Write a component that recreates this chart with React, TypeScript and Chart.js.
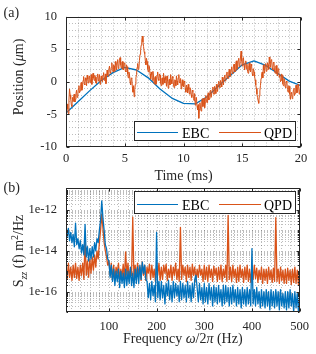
import React, { useEffect, useRef } from "react";
import { Chart, registerables } from "chart.js";

Chart.register(...registerables);

// ---------------- data: panel (a) ----------------
const timeMs = [
  0, 0.05, 0.1, 0.15, 0.2, 0.25, 0.3, 0.35, 0.4, 0.45, 0.5, 0.55, 0.6, 0.65, 0.7, 0.75, 0.8, 0.85, 0.9, 0.95,
  1, 1.05, 1.1, 1.15, 1.2, 1.25, 1.3, 1.35, 1.4, 1.45, 1.5, 1.55, 1.6, 1.65, 1.7, 1.75, 1.8, 1.85, 1.9, 1.95,
  2, 2.05, 2.1, 2.15, 2.2, 2.25, 2.3, 2.35, 2.4, 2.45, 2.5, 2.55, 2.6, 2.65, 2.7, 2.75, 2.8, 2.85, 2.9, 2.95,
  3, 3.05, 3.1, 3.15, 3.2, 3.25, 3.3, 3.35, 3.4, 3.45, 3.5, 3.55, 3.6, 3.65, 3.7, 3.75, 3.8, 3.85, 3.9, 3.95,
  4, 4.05, 4.1, 4.15, 4.2, 4.25, 4.3, 4.35, 4.4, 4.45, 4.5, 4.55, 4.6, 4.65, 4.7, 4.75, 4.8, 4.85, 4.9, 4.95,
  5, 5.05, 5.1, 5.15, 5.2, 5.25, 5.3, 5.35, 5.4, 5.45, 5.5, 5.55, 5.6, 5.65, 5.7, 5.75, 5.8, 5.85, 5.9, 5.95,
  6, 6.05, 6.1, 6.15, 6.2, 6.25, 6.3, 6.35, 6.4, 6.45, 6.5, 6.55, 6.6, 6.65, 6.7, 6.75, 6.8, 6.85, 6.9, 6.95,
  7, 7.05, 7.1, 7.15, 7.2, 7.25, 7.3, 7.35, 7.4, 7.45, 7.5, 7.55, 7.6, 7.65, 7.7, 7.75, 7.8, 7.85, 7.9, 7.95,
  8, 8.05, 8.1, 8.15, 8.2, 8.25, 8.3, 8.35, 8.4, 8.45, 8.5, 8.55, 8.6, 8.65, 8.7, 8.75, 8.8, 8.85, 8.9, 8.95,
  9, 9.05, 9.1, 9.15, 9.2, 9.25, 9.3, 9.35, 9.4, 9.45, 9.5, 9.55, 9.6, 9.65, 9.7, 9.75, 9.8, 9.85, 9.9, 9.95,
  10, 10.05, 10.1, 10.15, 10.2, 10.25, 10.3, 10.35, 10.4, 10.45, 10.5, 10.55, 10.6, 10.65, 10.7, 10.75, 10.8, 10.85, 10.9, 10.95,
  11, 11.05, 11.1, 11.15, 11.2, 11.25, 11.3, 11.35, 11.4, 11.45, 11.5, 11.55, 11.6, 11.65, 11.7, 11.75, 11.8, 11.85, 11.9, 11.95,
  12, 12.05, 12.1, 12.15, 12.2, 12.25, 12.3, 12.35, 12.4, 12.45, 12.5, 12.55, 12.6, 12.65, 12.7, 12.75, 12.8, 12.85, 12.9, 12.95,
  13, 13.05, 13.1, 13.15, 13.2, 13.25, 13.3, 13.35, 13.4, 13.45, 13.5, 13.55, 13.6, 13.65, 13.7, 13.75, 13.8, 13.85, 13.9, 13.95,
  14, 14.05, 14.1, 14.15, 14.2, 14.25, 14.3, 14.35, 14.4, 14.45, 14.5, 14.55, 14.6, 14.65, 14.7, 14.75, 14.8, 14.85, 14.9, 14.95,
  15, 15.05, 15.1, 15.15, 15.2, 15.25, 15.3, 15.35, 15.4, 15.45, 15.5, 15.55, 15.6, 15.65, 15.7, 15.75, 15.8, 15.85, 15.9, 15.95,
  16, 16.05, 16.1, 16.15, 16.2, 16.25, 16.3, 16.35, 16.4, 16.45, 16.5, 16.55, 16.6, 16.65, 16.7, 16.75, 16.8, 16.85, 16.9, 16.95,
  17, 17.05, 17.1, 17.15, 17.2, 17.25, 17.3, 17.35, 17.4, 17.45, 17.5, 17.55, 17.6, 17.65, 17.7, 17.75, 17.8, 17.85, 17.9, 17.95,
  18, 18.05, 18.1, 18.15, 18.2, 18.25, 18.3, 18.35, 18.4, 18.45, 18.5, 18.55, 18.6, 18.65, 18.7, 18.75, 18.8, 18.85, 18.9, 18.95,
  19, 19.05, 19.1, 19.15, 19.2, 19.25, 19.3, 19.35, 19.4, 19.45, 19.5, 19.55, 19.6, 19.65, 19.7, 19.75, 19.8, 19.85, 19.9, 19.95,
  20,
];

const qpdUm = [
  -4.6, -4.0, -3.4, -4.2, -4.9, -2.8, -1.1, -2.0, -2.6, -3.5, -3.8, -2.4, -3.0, -2.2, -1.9, -3.1, -2.7, -1.8, -1.3, -2.4,
  -2.2, -1.1, -0.6, -1.7, -1.4, -0.4, -0.1, -1.3, -1.0, 0.2, 0.8, -0.3, -0.5, 0.6, 0.2, -0.6, 1.0, 0.4, -0.2, 0.7,
  0.9, -0.1, 0.3, 1.1, -0.4, 0.5, 1.3, 0.6, 0.2, 1.0, 0.7, -0.2, -0.3, 0.8, 1.2, 0.1, 0.5, 1.1, -0.4, 0.3,
  0.9, 0.3, 0.0, 1.0, 1.4, 0.2, 0.6, 1.2, -0.3, 0.7, 1.8, 1.0, 0.8, 1.9, 2.4, 1.5, 1.3, 2.2, 2.9, 1.9,
  1.5, 2.6, 2.4, 1.6, 3.1, 2.5, 1.8, 2.9, 3.4, 2.0, 2.3, 3.3, 3.7, 2.6, 2.1, 3.0, 3.1, 1.9, 1.8, 2.9,
  2.8, 1.7, 1.5, 2.6, 2.3, 1.2, 0.6, 1.5, 1.2, 0.0, -0.5, 0.6, 0.5, -0.8, -1.6, -0.6, -2.3, -1.2, -0.4, 0.6,
  1.1, 2.2, 2.8, 1.9, 2.0, 3.3, 4.2, 4.9, 5.6, 6.4, 7.0, 6.1, 5.4, 4.6, 4.3, 3.2, 2.6, 3.6, 3.1, 2.0,
  1.5, 2.5, 2.3, 1.2, 0.4, 1.5, 1.1, 0.2, 1.6, 0.7, -0.3, 0.6, 0.8, -0.4, -0.2, 1.0, 1.5, 0.4, 0.2, 1.2,
  1.0, -0.2, -0.6, 0.5, 0.6, -0.4, 1.3, 0.6, -0.2, 0.8, 0.3, -0.7, 0.9, 0.1, -1.0, 0.2, 0.4, -0.5, 1.1, 0.3,
  -0.3, 0.8, 0.6, -0.5, -0.9, 0.3, 0.2, -0.6, 0.9, 0.1, -0.5, 0.6, 1.1, 0.0, -0.2, 0.5, -1.1, -0.3, 0.3, -0.6,
  -0.8, 0.1, -0.1, -1.0, -1.6, -0.5, -0.9, -1.7, -0.4, -1.2, -1.9, -0.9, -1.1, -2.0, -2.4, -1.3, -1.5, -2.6, -2.9, -1.8,
  -3.6, -2.9, -2.4, -3.7, -4.3, -3.5, -5.6, -4.2, -3.2, -4.1, -4.5, -3.1, -2.6, -3.8, -3.5, -2.5, -4.0, -3.2, -2.1, -3.0,
  -3.2, -2.2, -1.7, -2.8, -2.6, -1.5, -1.3, -2.4, -2.4, -1.2, -0.8, -1.9, -1.9, -0.7, -1.2, -1.8, -0.4, -0.9, -1.5, -0.3,
  0.1, -0.7, -0.9, 0.2, -0.3, -0.8, 0.7, 0.0, -0.5, 0.6, 1.0, 0.1, 0.2, 1.2, 1.5, 0.5, 0.5, 1.5, 1.9, 0.9,
  0.8, 1.9, 2.3, 1.3, 1.2, 2.4, 2.7, 1.5, 1.6, 2.9, 3.2, 1.9, 2.0, 3.3, 3.6, 2.3, 2.5, 3.8, 4.7, 3.2,
  2.4, 3.4, 3.7, 2.5, 1.8, 2.9, 3.2, 2.0, 2.7, 1.6, 1.3, 2.5, 2.9, 1.8, 1.5, 2.7, 2.4, 1.2, 0.9, 2.0,
  1.5, 0.8, 0.3, -0.5, -1.0, -1.9, -2.4, -2.9, -3.3, -2.2, -1.4, -0.6, 0.5, 1.2, 1.5, 0.6, 2.6, 1.8, 1.3, 2.4,
  2.8, 1.6, 1.7, 2.9, 2.6, 1.9, 3.8, 2.8, 2.2, 3.3, 3.4, 2.1, 1.8, 3.0, 2.9, 1.6, 1.3, 2.4, 2.5, 1.2,
  0.9, 2.0, 1.9, 0.7, 1.1, 0.0, 0.2, 1.2, 1.0, -0.3, -0.6, 0.5, 0.4, -0.8, -0.9, 0.1, -0.1, -1.2, -1.6, -0.6,
  -0.7, -1.9, -2.7, -1.8, -1.6, -2.6, -2.4, -1.3, -1.0, -2.1, -1.8, -0.6, -0.5, -1.7, -1.6, -0.4, -0.7, -1.9, -1.5, -0.8,
  -1.0,
];

const ebcTimeMs = [0, 1, 2, 3, 4, 5, 6, 7, 8, 9, 10, 11, 12, 13, 14, 15, 16, 17, 18, 19, 20];
const ebcUm = [-4.8, -3.1, -1.4, 0.2, 1.4, 2.2, 1.8, 0.6, -1.1, -2.5, -3.3, -3.4, -2.3, -0.6, 1.0, 2.6, 3.2, 2.5, 1.3, 0.1, -0.6];

const xTicksA = [0, 5, 10, 15, 20];
const yTicksA = [-10, -5, 0, 5, 10];

// ---------------- data: panel (b) ----------------
const freqHz = [
  10, 12.5, 15, 17.5, 20, 22.5, 25, 27.5,
  30, 32.5, 35, 37.5, 40, 42.5, 45, 47.5,
  50, 52.5, 55, 57.5, 60, 62.5, 65, 67.5,
  70, 72.5, 75, 77.5, 80, 82.5, 85, 87.5,
  90, 92.5, 95, 97.5, 100, 102.5, 105, 107.5,
  110, 112.5, 115, 117.5, 120, 122.5, 125, 127.5,
  130, 132.5, 135, 137.5, 140, 142.5, 145, 147.5,
  150, 152.5, 155, 157.5, 160, 162.5, 165, 167.5,
  170, 172.5, 175, 177.5, 180, 182.5, 185, 187.5,
  190, 192.5, 195, 197.5, 200, 202.5, 205, 207.5,
  210, 212.5, 215, 217.5, 220, 222.5, 225, 227.5,
  230, 232.5, 235, 237.5, 240, 242.5, 245, 247.5,
  250, 252.5, 255, 257.5, 260, 262.5, 265, 267.5,
  270, 272.5, 275, 277.5, 280, 282.5, 285, 287.5,
  290, 292.5, 295, 297.5, 300, 302.5, 305, 307.5,
  310, 312.5, 315, 317.5, 320, 322.5, 325, 327.5,
  330, 332.5, 335, 337.5, 340, 342.5, 345, 347.5,
  350, 352.5, 355, 357.5, 360, 362.5, 365, 367.5,
  370, 372.5, 375, 377.5, 380, 382.5, 385, 387.5,
  390, 392.5, 395, 397.5, 400, 402.5, 405, 407.5,
  410, 412.5, 415, 417.5, 420, 422.5, 425, 427.5,
  430, 432.5, 435, 437.5, 440, 442.5, 445, 447.5,
  450, 452.5, 455, 457.5, 460, 462.5, 465, 467.5,
  470, 472.5, 475, 477.5, 480, 482.5, 485, 487.5,
  490, 492.5, 495, 497.5, 500,
];

// log10 of S_zz (m^2/Hz)
const ebcPsdLog10 = [
  -12.7, -13.3, -12.9, -13.5, -13.1, -13.6, -13.2, -13.8,
  -12.65, -13.7, -13.4, -13.9, -13.5, -14.1, -13.7, -14.2,
  -12.7, -14.3, -13.8, -14.5, -13.9, -14.4, -13.8, -14.3,
  -13.6, -14.0, -13.4, -13.6, -13.0, -12.5, -11.55, -12.4,
  -13.0, -13.7, -13.9, -14.4, -14.5, -15.3, -14.7, -15.5,
  -14.9, -15.7, -15.0, -15.5, -14.9, -15.8, -15.0, -15.6,
  -15.1, -15.8, -14.9, -15.7, -15.0, -15.6, -14.8, -15.7,
  -15.1, -15.8, -14.9, -15.6, -14.8, -15.6, -14.7, -15.4,
  -14.55, -15.1, -14.7, -15.4, -15.5, -16.3, -15.6, -16.4,
  -15.5, -16.2, -15.7, -16.5, -13.1, -16.3, -15.5, -16.4,
  -15.5, -16.3, -15.7, -16.6, -15.6, -16.2, -15.45, -16.4,
  -15.7, -16.5, -15.5, -16.3, -15.6, -16.2, -15.7, -16.5,
  -15.5, -16.4, -15.6, -16.3, -15.7, -16.5, -15.5, -16.3,
  -15.7, -16.5, -15.6, -16.3, -15.4, -15.2, -15.8, -16.5,
  -15.6, -16.4, -15.8, -16.6, -15.6, -16.5, -15.8, -16.6,
  -15.6, -16.4, -15.8, -16.7, -15.7, -16.5, -15.8, -16.6,
  -15.7, -16.5, -15.9, -16.7, -15.7, -16.6, -15.7, -16.5,
  -15.8, -16.7, -15.8, -16.6, -15.7, -16.5, -15.9, -16.7,
  -15.8, -16.6, -15.9, -16.8, -15.8, -16.6, -15.9, -16.7,
  -15.8, -16.6, -15.9, -16.7, -13.9, -16.6, -15.9, -16.7,
  -15.8, -16.6, -16.0, -16.8, -15.9, -16.7, -16.0, -16.8,
  -15.9, -16.7, -16.0, -16.9, -15.9, -16.7, -16.0, -16.8,
  -15.9, -16.7, -16.0, -16.9, -15.9, -16.7, -16.1, -16.8,
  -16.0, -16.9, -16.0, -16.8, -15.9, -16.7, -16.1, -17.0,
  -16.0, -16.8, -16.1, -17.0, -16.2,
];

const qpdPsdLog10 = [
  -14.7, -15.4, -14.6, -15.3, -14.8, -15.45, -14.7, -15.3,
  -14.6, -15.35, -14.8, -15.45, -14.7, -15.2, -14.6, -15.4,
  -13.45, -15.2, -14.5, -15.3, -14.4, -15.1, -14.3, -14.95,
  -14.2, -14.8, -14.0, -14.4, -13.6, -13.0, -12.2, -12.9,
  -13.6, -14.0, -14.3, -14.7, -14.5, -15.2, -14.6, -15.4,
  -14.7, -15.45, -14.8, -15.1, -14.6, -15.4, -14.9, -15.3,
  -14.65, -15.4, -14.05, -15.2, -14.6, -15.45, -14.9, -15.2,
  -12.35, -15.4, -14.7, -15.3, -14.6, -15.1, -14.8, -15.45,
  -14.55, -15.2, -14.7, -15.45, -14.8, -15.1, -14.65, -15.4,
  -14.7, -15.3, -14.9, -15.5, -14.7, -15.2, -14.6, -15.45,
  -14.8, -15.4, -14.7, -15.1, -14.65, -15.45, -14.9, -15.3,
  -14.7, -15.45, -14.8, -15.2, -14.6, -15.4, -14.9, -15.5,
  -12.85, -15.4, -14.7, -15.2, -14.8, -15.5, -14.7, -15.3,
  -14.8, -15.45, -14.65, -15.2, -14.8, -15.5, -14.9, -15.3,
  -14.7, -15.2, -14.9, -15.5, -14.7, -15.4, -14.8, -15.5,
  -14.7, -15.3, -14.9, -15.5, -14.75, -15.2, -14.85, -15.5,
  -14.8, -15.4, -14.7, -15.5, -14.9, -15.3, -14.7, -15.5,
  -12.26, -15.4, -14.8, -15.5, -14.7, -15.3, -14.9, -15.55,
  -14.8, -15.5, -14.7, -15.3, -14.9, -15.55, -14.8, -15.4,
  -14.7, -15.5, -14.9, -15.55, -14.8, -15.4, -14.7, -15.35,
  -14.85, -15.55, -14.95, -15.4, -14.8, -15.6, -14.9, -15.45,
  -14.9, -15.6, -14.8, -15.4, -14.95, -15.55, -14.85, -15.5,
  -12.37, -15.5, -14.9, -15.6, -14.8, -15.45, -14.95, -15.6,
  -14.9, -15.6, -14.85, -15.45, -14.95, -15.65, -14.9, -15.55,
  -14.8, -15.6, -14.95, -15.65, -15.0,
];

const xTicksB = [100, 200, 300, 400, 500];
const yTicksB = [1e-16, 1e-14, 1e-12];
const yTickLabelsB = ["1e-16", "1e-14", "1e-12"];

const legendLabels = ["EBC", "QPD"];

// ---------------- styling ----------------
const W = 316;
const H = 354;
const BLUE = "#0072BD";
const ORANGE = "#D95319";
const TEXT = "#262626";
const GRID = "rgba(38,38,38,0.3)";
const FONT = "'Liberation Serif', 'Times New Roman', serif";

type Seg = { t: string; size?: number; italic?: boolean; dy?: number };
const fontOf = (s: Seg) => `${s.italic ? "italic " : ""}${s.size ?? 14}px ${FONT}`;

function drawRich(ctx: CanvasRenderingContext2D, segs: Seg[], x: number, y: number, rotated: boolean) {
  ctx.save();
  let total = 0;
  const widths = segs.map((s) => {
    ctx.font = fontOf(s);
    const w = ctx.measureText(s.t).width;
    total += w;
    return w;
  });
  ctx.translate(x, y);
  if (rotated) ctx.rotate(-Math.PI / 2);
  ctx.fillStyle = TEXT;
  ctx.textAlign = "left";
  ctx.textBaseline = "alphabetic";
  let cx = -total / 2;
  segs.forEach((s, i) => {
    ctx.font = fontOf(s);
    ctx.fillText(s.t, cx, s.dy ?? 0);
    cx += widths[i];
  });
  ctx.restore();
}

interface PanelSpec {
  xMajor: number[];
  yMajor: number[];
  xMinor: number[];
  yMinor: number[];
  yMinorTicks: number[];
  legend: { left: number; top: number; right: number; bottom: number; lineY: number; baseY: number };
  tag: string;
  tagY: number;
  xTitle: Seg[];
  xTitleY: number;
  yTitle: Seg[];
  yTitleX: number;
  yTitleY: number;
}

function panelPlugin(p: PanelSpec) {
  return {
    id: "panel",
    beforeDatasetsDraw(chart: any) {
      const { ctx, chartArea: a, scales } = chart;
      const xs = scales.x;
      const ys = scales.y;
      ctx.save();
      ctx.beginPath();
      ctx.rect(a.left, a.top, a.right - a.left, a.bottom - a.top);
      ctx.clip();
      ctx.lineWidth = 1;
      ctx.setLineDash([1, 2]);
      ctx.strokeStyle = GRID;
      for (const v of p.xMinor) {
        const px = Math.round(xs.getPixelForValue(v)) + 0.5;
        ctx.beginPath();
        ctx.moveTo(px, a.top);
        ctx.lineTo(px, a.bottom);
        ctx.stroke();
      }
      for (const v of p.yMinor) {
        const py = Math.round(ys.getPixelForValue(v)) + 0.5;
        ctx.beginPath();
        ctx.moveTo(a.left, py);
        ctx.lineTo(a.right, py);
        ctx.stroke();
      }
      ctx.restore();
    },
    afterDatasetsDraw(chart: any) {
      const { ctx, chartArea: a, scales } = chart;
      const xs = scales.x;
      const ys = scales.y;
      const L = Math.round(a.left) + 0.5;
      const R = Math.round(a.right) - 0.5;
      const T = Math.round(a.top) + 0.5;
      const B = Math.round(a.bottom) - 0.5;
      ctx.save();
      ctx.strokeStyle = TEXT;
      ctx.lineWidth = 1;
      ctx.setLineDash([]);
      ctx.strokeRect(L, T, R - L, B - T);
      ctx.beginPath();
      for (const v of p.xMajor) {
        const px = Math.round(xs.getPixelForValue(v)) + 0.5;
        ctx.moveTo(px, B);
        ctx.lineTo(px, B - 3);
        ctx.moveTo(px, T);
        ctx.lineTo(px, T + 3);
      }
      for (const v of p.yMajor) {
        const py = Math.round(ys.getPixelForValue(v)) + 0.5;
        ctx.moveTo(L, py);
        ctx.lineTo(L + 3, py);
        ctx.moveTo(R, py);
        ctx.lineTo(R - 3, py);
      }
      for (const v of p.yMinorTicks) {
        const py = Math.round(ys.getPixelForValue(v)) + 0.5;
        ctx.moveTo(L, py);
        ctx.lineTo(L + 1.5, py);
        ctx.moveTo(R, py);
        ctx.lineTo(R - 1.5, py);
      }
      ctx.stroke();
      ctx.restore();
    },
    afterDraw(chart: any) {
      const { ctx, chartArea: a } = chart;
      const lg = p.legend;
      ctx.save();
      ctx.fillStyle = "#ffffff";
      ctx.fillRect(lg.left, lg.top, lg.right - lg.left, lg.bottom - lg.top);
      ctx.strokeStyle = TEXT;
      ctx.lineWidth = 1;
      ctx.strokeRect(lg.left + 0.5, lg.top + 0.5, lg.right - lg.left - 1, lg.bottom - lg.top - 1);
      const entries = [
        { color: BLUE, x0: 137, x1: 178, tx: 182, text: legendLabels[0] },
        { color: ORANGE, x0: 219, x1: 261, tx: 264, text: legendLabels[1] },
      ];
      for (const e of entries) {
        ctx.strokeStyle = e.color;
        ctx.lineWidth = 1.2;
        ctx.beginPath();
        ctx.moveTo(e.x0, lg.lineY);
        ctx.lineTo(e.x1, lg.lineY);
        ctx.stroke();
        ctx.fillStyle = "#000000";
        ctx.font = `14px ${FONT}`;
        ctx.textAlign = "left";
        ctx.textBaseline = "alphabetic";
        ctx.fillText(e.text, e.tx, lg.baseY);
      }
      ctx.fillStyle = TEXT;
      ctx.font = `14px ${FONT}`;
      ctx.textAlign = "left";
      ctx.textBaseline = "alphabetic";
      ctx.fillText(p.tag, 3.5, p.tagY);
      ctx.restore();
      drawRich(ctx, p.xTitle, (a.left + a.right) / 2, p.xTitleY, false);
      drawRich(ctx, p.yTitle, p.yTitleX, p.yTitleY, true);
    },
  };
}

const tickFont = { family: FONT, size: 12.5 };

function makeConfigA(): any {
  const xMinor: number[] = [];
  for (let v = 0; v <= 20; v += 1) xMinor.push(v);
  const yMinor: number[] = [];
  for (let v = -10; v <= 10; v += 1) yMinor.push(v);
  const spec: PanelSpec = {
    xMajor: xTicksA,
    yMajor: yTicksA,
    xMinor,
    yMinor,
    yMinorTicks: [],
    legend: { left: 134, top: 121, right: 296, bottom: 141, lineY: 132.5, baseY: 137.5 },
    tag: "(a)",
    tagY: 16.5,
    xTitle: [{ t: "Time (ms)" }],
    xTitleY: 179.5,
    yTitle: [{ t: "Position (" }, { t: "\u03bc", italic: true }, { t: "m)" }],
    yTitleX: 22.5,
    yTitleY: 77,
  };
  return {
    type: "line",
    data: {
      datasets: [
        {
          label: legendLabels[1],
          data: timeMs.map((t, i) => ({ x: t, y: qpdUm[i] })),
          borderColor: ORANGE,
          borderWidth: 1,
          borderJoinStyle: "round",
          pointRadius: 0,
          tension: 0,
        },
        {
          label: legendLabels[0],
          data: ebcTimeMs.map((t, i) => ({ x: t, y: ebcUm[i] })),
          borderColor: BLUE,
          borderWidth: 1.3,
          borderJoinStyle: "round",
          pointRadius: 0,
          tension: 0,
        },
      ],
    },
    options: {
      responsive: false,
      animation: false,
      events: [],
      layout: { padding: { left: 0, right: 15, top: 11, bottom: 187 } },
      plugins: { legend: { display: false }, tooltip: { enabled: false } },
      scales: {
        x: {
          type: "linear",
          min: 0,
          max: 20,
          afterBuildTicks: (s: any) => {
            s.ticks = xTicksA.map((v) => ({ value: v }));
          },
          afterFit: (s: any) => {
            s.height = 20;
          },
          grid: { display: false, drawTicks: false },
          border: { display: false },
          ticks: { font: tickFont, color: TEXT, padding: 4.5, maxRotation: 0, minRotation: 0, autoSkip: false, callback: (v: any) => String(v) },
        },
        y: {
          type: "linear",
          min: -10,
          max: 10,
          afterBuildTicks: (s: any) => {
            s.ticks = yTicksA.map((v) => ({ value: v }));
          },
          afterFit: (s: any) => {
            s.width = 66;
          },
          grid: { display: false, drawTicks: false },
          border: { display: false },
          ticks: { font: tickFont, color: TEXT, padding: 9, autoSkip: false, callback: (v: any) => String(v) },
        },
      },
    },
    plugins: [panelPlugin(spec)],
  };
}

function makeConfigB(): any {
  const xMinor: number[] = [];
  for (let v = 20; v <= 500; v += 20) xMinor.push(v);
  const yMinor: number[] = [];
  for (let e = -17; e <= -12; e++) {
    for (let m = 1; m <= 9; m++) {
      const v = m * Math.pow(10, e);
      if (v <= 1.2e-11) yMinor.push(v);
    }
  }
  yMinor.push(1e-11);
  const spec: PanelSpec = {
    xMajor: xTicksB,
    yMajor: yTicksB,
    xMinor,
    yMinor,
    yMinorTicks: yMinor,
    legend: { left: 134, top: 191, right: 296, bottom: 214, lineY: 204.5, baseY: 210 },
    tag: "(b)",
    tagY: 192,
    xTitle: [
      { t: "Frequency " },
      { t: "\u03c9", italic: true },
      { t: "/2" },
      { t: "\u03c0", italic: true },
      { t: " (Hz)" },
    ],
    xTitleY: 343,
    yTitle: [
      { t: "S" },
      { t: "zz", size: 10, italic: true, dy: 3.5 },
      { t: " (f) m" },
      { t: "2", size: 10, dy: -5.5 },
      { t: "/Hz" },
    ],
    yTitleX: 23,
    yTitleY: 251,
  };
  return {
    type: "line",
    data: {
      datasets: [
        {
          label: legendLabels[0],
          data: freqHz.map((f, i) => ({ x: f, y: Math.pow(10, ebcPsdLog10[i]) })),
          borderColor: BLUE,
          borderWidth: 1.3,
          borderJoinStyle: "round",
          pointRadius: 0,
          tension: 0,
        },
        {
          label: legendLabels[1],
          data: freqHz.map((f, i) => ({ x: f, y: Math.pow(10, qpdPsdLog10[i]) })),
          borderColor: ORANGE,
          borderWidth: 1.3,
          borderJoinStyle: "round",
          pointRadius: 0,
          tension: 0,
        },
      ],
    },
    options: {
      responsive: false,
      animation: false,
      events: [],
      layout: { padding: { left: 0, right: 15, top: 188, bottom: 22 } },
      plugins: { legend: { display: false }, tooltip: { enabled: false } },
      scales: {
        x: {
          type: "linear",
          min: 10,
          max: 500,
          afterBuildTicks: (s: any) => {
            s.ticks = xTicksB.map((v) => ({ value: v }));
          },
          afterFit: (s: any) => {
            s.height = 20;
          },
          grid: { display: false, drawTicks: false },
          border: { display: false },
          ticks: { font: tickFont, color: TEXT, padding: 7, maxRotation: 0, minRotation: 0, autoSkip: false, callback: (v: any) => String(v) },
        },
        y: {
          type: "logarithmic",
          min: 1e-17,
          max: 1.2e-11,
          afterBuildTicks: (s: any) => {
            s.ticks = yTicksB.map((v) => ({ value: v }));
          },
          afterFit: (s: any) => {
            s.width = 66;
          },
          grid: { display: false, drawTicks: false },
          border: { display: false },
          ticks: {
            font: tickFont,
            color: TEXT,
            padding: 9,
            autoSkip: false,
            callback: (_v: any, i: number) => yTickLabelsB[i],
          },
        },
      },
    },
    plugins: [panelPlugin(spec)],
  };
}

export default function App() {
  const refA = useRef<HTMLCanvasElement | null>(null);
  const refB = useRef<HTMLCanvasElement | null>(null);
  useEffect(() => {
    const a = new Chart(refA.current as HTMLCanvasElement, makeConfigA());
    const b = new Chart(refB.current as HTMLCanvasElement, makeConfigB());
    return () => {
      a.destroy();
      b.destroy();
    };
  }, []);
  const cs: React.CSSProperties = { position: "absolute", left: 0, top: 0, width: W, height: H };
  return (
    <div style={{ position: "absolute", left: 0, top: 0, width: W, height: H, background: "#fff" }}>
      <canvas ref={refA} width={W} height={H} style={cs} />
      <canvas ref={refB} width={W} height={H} style={cs} />
    </div>
  );
}
